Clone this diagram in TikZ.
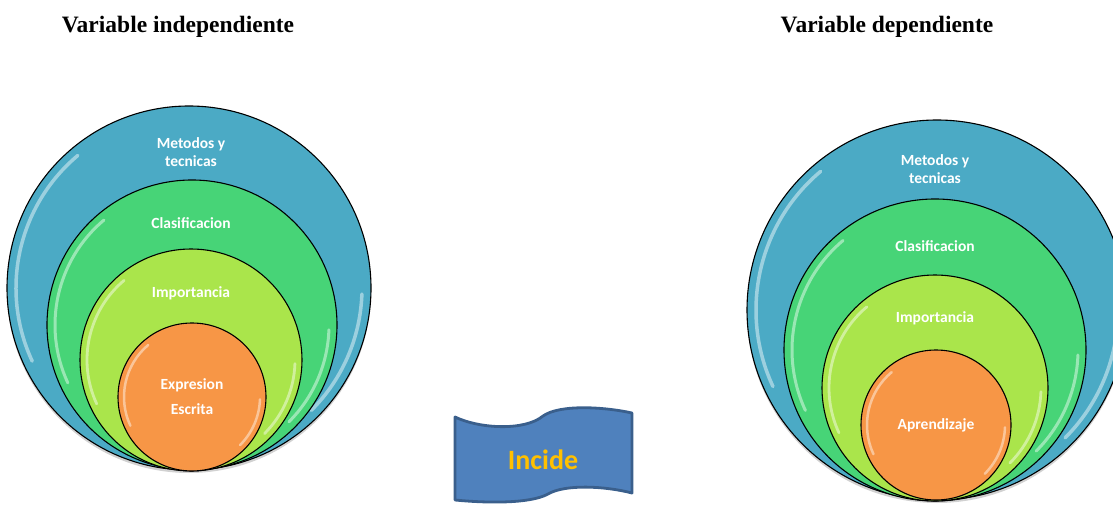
\documentclass[tikz,border=0pt]{standalone}
\usepackage{fontspec}
\setmainfont{Liberation Serif}
\newfontfamily\calib{Carlito}
\usetikzlibrary{calc}
\definecolor{cblue}{HTML}{4BAAC5}
\definecolor{cgreen}{HTML}{47D477}
\definecolor{clime}{HTML}{AAE54B}
\definecolor{corange}{HTML}{F79646}
\definecolor{bannerfill}{HTML}{4F81BD}
\definecolor{bannerline}{HTML}{3A5F8C}
\definecolor{gold}{HTML}{FFC000}
\newcommand\glossarcs[3]{%
  \draw[hl,line width=#3] (#1.center) ++(130:#2) arc[start angle=130,end angle=205,radius=#2];
  \draw[hl,line width=#3] (#1.center) ++(-45:#2) arc[start angle=-45,end angle=-2,radius=#2];}
\begin{document}
\begin{tikzpicture}[x=1pt,y=-1pt,
  ring/.style={circle,draw=black,line width=1.1pt,inner sep=0pt,outer sep=0pt},
  lab/.style={font=\calib\bfseries\fontsize{15.5}{17.5}\selectfont,text=white,align=center,inner sep=0pt},
  ttl/.style={font=\bfseries\fontsize{23.5}{26}\selectfont,inner sep=0pt,anchor=base},
  hl/.style={white,opacity=0.45,line cap=round},
  shadowc/.style={fill=black,opacity=0.18}]
\useasboundingbox (0,0) rectangle (1113,505);

% titles
\node[ttl] (t1) at (178,33) {Variable independiente};
\node[ttl] (t2) at (887,33) {Variable dependiente};

% ---- left set ----
\fill[shadowc] (189,291) circle[radius=182pt];
\node[ring,fill=cblue,minimum size=364pt] (L1) at (189,288) {};
\glossarcs{L1}{173pt}{3.5pt}
\node[ring,fill=cgreen,minimum size=290pt] (L2) at (192,325) {};
\glossarcs{L2}{137pt}{3pt}
\node[ring,fill=clime,minimum size=222pt] (L3) at (191,360) {};
\glossarcs{L3}{104pt}{2.8pt}
\node[ring,fill=corange,minimum size=148pt] (L4) at (192,397) {};
\glossarcs{L4}{68pt}{2.5pt}

\node[lab] (l1) at (191,152) {Metodos y\\tecnicas};
\node[lab] (l2) at (191,223) {Clasificacion};
\node[lab] (l3) at (191,293) {Importancia};
\node[lab,font=\calib\bfseries\fontsize{15.5}{25}\selectfont] (l4) at (192,397) {Expresion\\Escrita};

% ---- right set ----
\fill[shadowc] (937,313) circle[radius=190pt];
\node[ring,fill=cblue,minimum size=380pt] (R1) at (937,310) {};
\glossarcs{R1}{181pt}{3.5pt}
\node[ring,fill=cgreen,minimum size=302pt] (R2) at (935,350) {};
\glossarcs{R2}{143pt}{3pt}
\node[ring,fill=clime,minimum size=226pt] (R3) at (935,388) {};
\glossarcs{R3}{106pt}{2.8pt}
\node[ring,fill=corange,minimum size=150pt] (R4) at (936,425) {};
\glossarcs{R4}{69pt}{2.5pt}

\node[lab] (r1) at (935,169) {Metodos y\\tecnicas};
\node[lab] (r2) at (935,246) {Clasificacion};
\node[lab] (r3) at (935,318) {Importancia};
\node[lab] (r4) at (936,425) {Aprendizaje};

% ---- banner ----
\draw[fill=bannerfill,draw=bannerline,line width=2.8pt,line join=round]
  (455,417) .. controls (480,429) and (525,431) .. (543,416)
  .. controls (560,404) and (605,407) .. (632,413)
  -- (632,493)
  .. controls (605,486) and (565,484) .. (548,494)
  .. controls (530,504) and (485,503) .. (455,500) -- cycle;
\node[font=\calib\bfseries\fontsize{28}{30}\selectfont,text=gold,inner sep=0pt] (inc) at (543,460) {Incide};
\end{tikzpicture}
\end{document}
